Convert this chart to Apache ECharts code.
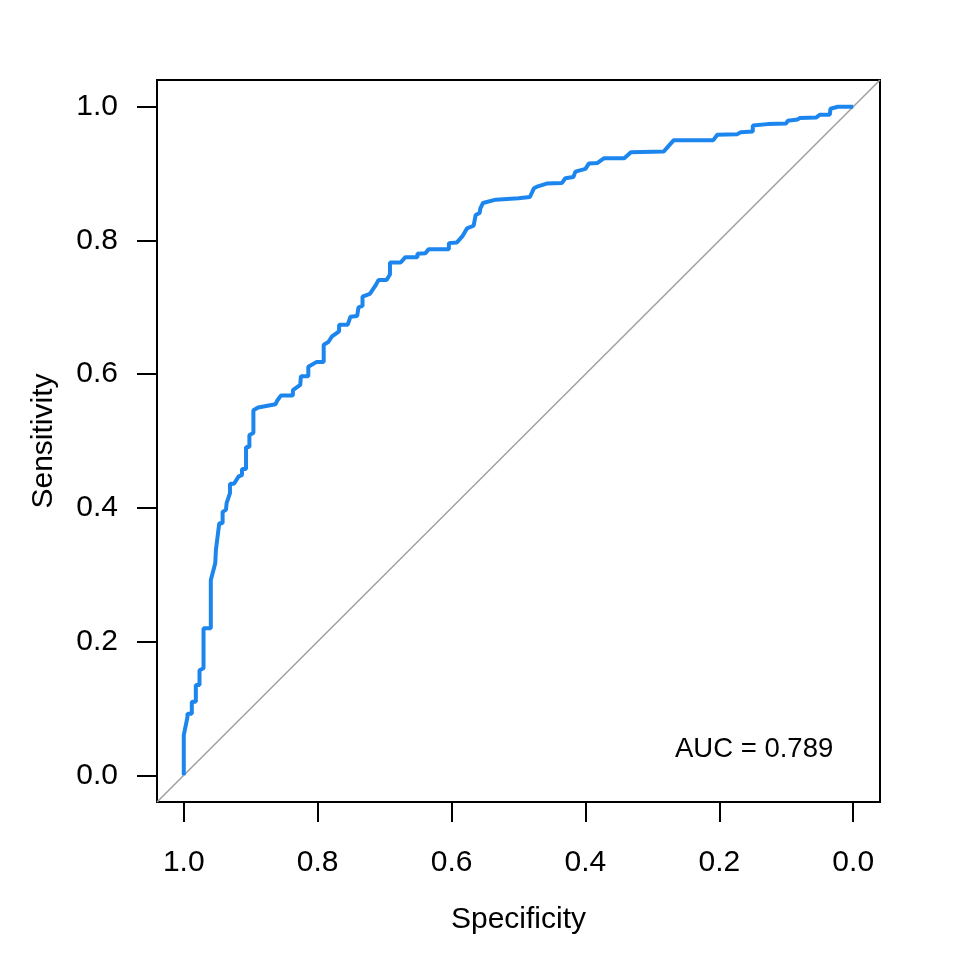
<!DOCTYPE html>
<html>
<head>
<meta charset="utf-8">
<script src="https://cdn.jsdelivr.net/npm/echarts@6/dist/echarts.min.js"></script>
<style>
html,body{margin:0;padding:0;background:#fff;}
#chart{width:960px;height:960px;}
</style>
</head>
<body>
<div id="chart"></div>
<script>
const specificity = [1.000,1.000,0.9945,0.9945,0.988,0.988,0.982,0.982,0.9765,0.9765,0.9705,0.9705,0.9596,0.9596,0.953,0.952,0.947,0.942,0.942,0.937,0.936,0.931,0.931,0.925,0.918,0.913,0.913,0.907,0.907,0.902,0.902,0.896,0.896,0.889,0.863,0.860,0.855,0.837,0.837,0.826,0.825,0.814,0.814,0.802,0.791,0.791,0.784,0.779,0.768,0.768,0.755,0.751,0.741,0.739,0.733,0.733,0.722,0.714,0.709,0.697,0.692,0.692,0.676,0.669,0.651,0.651,0.639,0.634,0.604,0.604,0.592,0.584,0.577,0.567,0.564,0.558,0.557,0.553,0.534,0.500,0.483,0.477,0.471,0.458,0.435,0.430,0.418,0.415,0.400,0.395,0.382,0.372,0.342,0.332,0.283,0.277,0.268,0.209,0.203,0.173,0.168,0.150,0.150,0.128,0.100,0.098,0.083,0.080,0.055,0.050,0.035,0.034,0.023,0.000];
const sensitivity = [0.000,0.060,0.087,0.092,0.092,0.110,0.110,0.135,0.135,0.157,0.160,0.220,0.220,0.292,0.317,0.337,0.377,0.377,0.394,0.397,0.407,0.422,0.436,0.436,0.447,0.449,0.458,0.458,0.491,0.491,0.509,0.512,0.546,0.550,0.555,0.561,0.568,0.568,0.576,0.584,0.597,0.597,0.611,0.618,0.618,0.644,0.648,0.656,0.664,0.674,0.674,0.686,0.687,0.700,0.702,0.716,0.720,0.732,0.741,0.741,0.749,0.767,0.767,0.775,0.775,0.780,0.781,0.787,0.787,0.796,0.797,0.806,0.818,0.822,0.838,0.841,0.848,0.856,0.861,0.863,0.865,0.878,0.881,0.885,0.886,0.893,0.895,0.903,0.907,0.915,0.916,0.923,0.923,0.932,0.933,0.940,0.950,0.950,0.958,0.959,0.962,0.963,0.972,0.974,0.975,0.979,0.981,0.983,0.984,0.988,0.988,0.997,1.000,1.000];
const diagX = [1.04, -0.04];
const diagY = [-0.04, 1.04];
const tickValues = [0, 0.2, 0.4, 0.6, 0.8, 1.0];
const aucText = 'AUC = 0.789';

const FONT = '"Liberation Sans", Arial, sans-serif';
const chart = echarts.init(document.getElementById('chart'), null, {renderer: 'canvas'});
const rocData = specificity.map((s, i) => [s, sensitivity[i]]);
const diagData = diagX.map((x, i) => [x, diagY[i]]);

chart.setOption({
  animation: false,
  backgroundColor: '#ffffff',
  grid: {
    left: 157, right: 80, top: 80, bottom: 158,
    show: true, borderColor: '#000', borderWidth: 2, backgroundColor: 'transparent'
  },
  xAxis: {
    type: 'value', inverse: true, min: -0.04, max: 1.04,
    name: 'Specificity', nameLocation: 'middle', nameGap: 103,
    nameTextStyle: {fontFamily: FONT, fontSize: 30, color: '#000'},
    axisLine: {show: false, onZero: false},
    splitLine: {show: false},
    axisTick: {show: true, inside: false, length: 20, customValues: tickValues, lineStyle: {color: '#000', width: 2}},
    axisLabel: {show: true, customValues: tickValues, margin: 46, fontFamily: FONT, fontSize: 30, color: '#000',
      formatter: v => v.toFixed(1)}
  },
  yAxis: {
    type: 'value', min: -0.04, max: 1.04,
    name: 'Sensitivity', nameLocation: 'middle', nameGap: 98,
    nameTextStyle: {fontFamily: FONT, fontSize: 30, color: '#000'},
    axisLine: {show: false, onZero: false},
    splitLine: {show: false},
    axisTick: {show: true, inside: false, length: 20, customValues: tickValues, lineStyle: {color: '#000', width: 2}},
    axisLabel: {show: true, customValues: tickValues, margin: 39, fontFamily: FONT, fontSize: 30, color: '#000',
      formatter: v => v.toFixed(1)}
  },
  series: [
    {
      type: 'line', data: diagData, showSymbol: false, silent: true,
      lineStyle: {color: '#A0A0A0', width: 1.5}, z: 1
    },
    {
      type: 'line', data: rocData, showSymbol: false, silent: true,
      lineStyle: {color: '#1C86EE', width: 4}, z: 2
    }
  ],
  graphic: [
    {
      type: 'text', left: 675, top: 735,
      style: {text: aucText, fontFamily: FONT, fontSize: 27.5, fill: '#000'}
    }
  ]
});
</script>
</body>
</html>
